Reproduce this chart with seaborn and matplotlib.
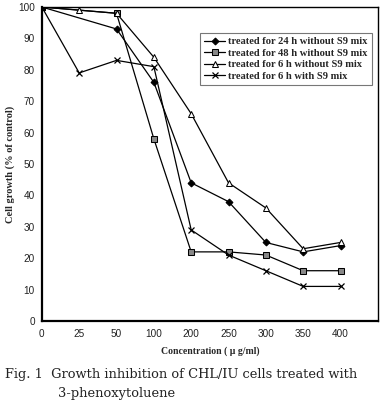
import matplotlib
matplotlib.use("Agg")
import matplotlib.pyplot as plt
import seaborn as sns
import pandas as pd
import numpy as np

concentrations = ["0", "25", "50", "100", "200", "250", "300", "350", "400"]
growth_24h = [100, np.nan, 93, 76, 44, 38, 25, 22, 24]
growth_48h = [100, np.nan, 98, 58, 22, 22, 21, 16, 16]
growth_6h = [100, 99, 98, 84, 66, 44, 36, 23, 25]
growth_6h_s9 = [100, 79, 83, 81, 29, 21, 16, 11, 11]

series_labels = [
    "treated for 24 h without S9 mix",
    "treated for 48 h without S9 mix",
    "treated for 6 h without S9 mix",
    "treated for 6 h with S9 mix",
]

rows = []
for label, vals in zip(series_labels, [growth_24h, growth_48h, growth_6h, growth_6h_s9]):
    for i, v in enumerate(vals):
        if not np.isnan(v):
            rows.append({"pos": i, "growth": v, "series": label})
df = pd.DataFrame(rows)

sns.set_style("white")
fig = plt.figure(figsize=(3.84, 4.12), dpi=100)
ax = fig.add_axes([0.109, 0.221, 0.875, 0.762])

styles = {
    series_labels[0]: dict(marker="D", markersize=3.5, markerfacecolor="black", markeredgecolor="black"),
    series_labels[1]: dict(marker="s", markersize=4, markerfacecolor="#888888", markeredgecolor="black"),
    series_labels[2]: dict(marker="^", markersize=4.5, markerfacecolor="white", markeredgecolor="black"),
    series_labels[3]: dict(marker="x", markersize=4.5, markeredgecolor="black", markeredgewidth=0.9),
}

for label in series_labels:
    sub = df[df["series"] == label]
    sns.lineplot(data=sub, x="pos", y="growth", ax=ax, color="black", linewidth=0.9,
                 label=label, **styles[label])

ax.set_xlim(0, 9)
ax.set_ylim(0, 100)
ax.set_xticks(range(len(concentrations)))
ax.set_xticklabels(concentrations)
ax.set_yticks(range(0, 101, 10))
for t in ax.get_xticklabels() + ax.get_yticklabels():
    t.set_fontsize(7.2)
    t.set_family("Liberation Sans")
    t.set_color("#222222")
ax.tick_params(axis="x", length=0, pad=6)
ax.tick_params(axis="y", length=0, pad=5)

for side in ["left", "bottom"]:
    ax.spines[side].set_linewidth(1.6)
for side in ["top", "right"]:
    ax.spines[side].set_linewidth(1.0)
for s in ax.spines.values():
    s.set_color("black")

serif = "Liberation Serif"
ax.set_xlabel("Concentration ( μ g/ml)", fontsize=7, fontweight="bold", family=serif, labelpad=5)
ax.set_ylabel("Cell growth (% of control)", fontsize=7.5, fontweight="bold", family=serif, labelpad=2)

leg = ax.legend(loc="upper right", bbox_to_anchor=(0.998, 0.935), frameon=True, fancybox=False,
                prop={"family": serif, "weight": "bold", "size": 7.6},
                handlelength=2.0, handletextpad=0.3, labelspacing=0.2, borderpad=0.4)
leg.get_frame().set_edgecolor("#555555")
leg.get_frame().set_linewidth(0.8)

cap_font = "DejaVu Serif"
fig.text(0.012, 0.092, "Fig. 1  Growth inhibition of CHL/IU cells treated with",
         fontsize=9.4, family=cap_font, ha="left", va="center", color="#222222")
fig.text(0.151, 0.046, "3-phenoxytoluene", fontsize=9.4, family=cap_font, ha="left", va="center",
         color="#222222")

fig.savefig("out.png", dpi=100)
